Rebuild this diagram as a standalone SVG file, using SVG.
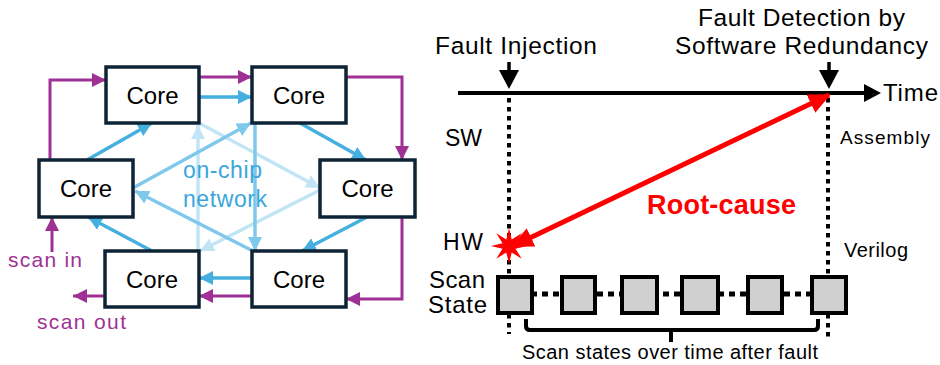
<svg xmlns="http://www.w3.org/2000/svg" width="940" height="365" viewBox="0 0 940 365">
<defs>
<style>
.core rect{fill:#fff;stroke:#0e2335;stroke-width:3.5}
.core text{font-family:"Liberation Sans",Arial,sans-serif;font-size:24px;fill:#000;text-anchor:middle}
.p{fill:none;stroke:#9e3193;stroke-width:3;marker-end:url(#mp)}
.b{fill:none;stroke:#45afe0;stroke-width:3.5;marker-end:url(#mb)}
.m{fill:none;stroke:#80c8eb;stroke-width:3.5;marker-end:url(#mm)}
.l{fill:none;stroke:#c2e5f6;stroke-width:3.5;marker-end:url(#ml)}
.t{font-family:"Liberation Sans",Arial,sans-serif;fill:#000}
.dot{fill:none;stroke:#000;stroke-width:4;stroke-dasharray:4.5 4.5}
.sb{fill:#d0d0d0;stroke:#000;stroke-width:4}
</style>
<marker id="mp" markerUnits="userSpaceOnUse" markerWidth="14" markerHeight="14" viewBox="0 0 14 14" refX="14" refY="7" orient="auto"><path d="M0,0 L14,7 L0,14 z" fill="#9e3193"/></marker>
<marker id="mb" markerUnits="userSpaceOnUse" markerWidth="14" markerHeight="14" viewBox="0 0 14 14" refX="14" refY="7" orient="auto"><path d="M0,0 L14,7 L0,14 z" fill="#45afe0"/></marker>
<marker id="mm" markerUnits="userSpaceOnUse" markerWidth="14" markerHeight="14" viewBox="0 0 14 14" refX="14" refY="7" orient="auto"><path d="M0,0 L14,7 L0,14 z" fill="#80c8eb"/></marker>
<marker id="ml" markerUnits="userSpaceOnUse" markerWidth="14" markerHeight="14" viewBox="0 0 14 14" refX="14" refY="7" orient="auto"><path d="M0,0 L14,7 L0,14 z" fill="#c2e5f6"/></marker>
<marker id="mr" markerUnits="userSpaceOnUse" markerWidth="22" markerHeight="20" viewBox="0 0 22 20" refX="20" refY="10" orient="auto-start-reverse"><path d="M0,0 L22,10 L0,20 z" fill="#ff0000"/></marker>
</defs>

<g id="connectors">
<path class="l" d="M198,251 V125"/>
<path class="l" d="M199,123 L320,188"/>
<path class="l" d="M320,190 L200,251"/>
<path class="m" d="M255,123 V251"/>
<path class="m" d="M133,188 L251,123"/>
<path class="m" d="M253,251 L135,191"/>
<path class="b" d="M199,97 H252"/>
<path class="b" d="M300,123 L366,160"/>
<path class="b" d="M367,217 L302,251"/>
<path class="b" d="M252,278 H199"/>
<path class="b" d="M152,251 L88,217"/>
<path class="b" d="M87,160 L152,123"/>
<path class="p" d="M50,159 V80 H106"/>
<path class="p" d="M199,77 H252"/>
<path class="p" d="M346,77 H402 V160"/>
<path class="p" d="M402,217 V299 H346"/>
<path class="p" d="M252,296 H199"/>
<path class="p" d="M105,296 H73"/>
<path class="p" d="M52,252 V217"/>
</g>

<g id="core1" class="core"><rect x="106" y="67" width="93" height="56"/><text x="152.5" y="104">Core</text></g>
<g id="core2" class="core"><rect x="252" y="67" width="94" height="56"/><text x="299" y="104">Core</text></g>
<g id="core3" class="core"><rect x="39" y="160" width="94" height="57"/><text x="86" y="197">Core</text></g>
<g id="core4" class="core"><rect x="320" y="160" width="95" height="57"/><text x="367.5" y="197">Core</text></g>
<g id="core5" class="core"><rect x="105" y="251" width="94" height="56"/><text x="152" y="288">Core</text></g>
<g id="core6" class="core"><rect x="252" y="251" width="94" height="56"/><text x="299" y="288">Core</text></g>

<g id="labels-left" font-family="Liberation Sans, Arial, sans-serif">
<text x="183" y="178" font-size="23" fill="#3aa6dc" textLength="79">on-chip</text>
<text x="183" y="207" font-size="23" fill="#3aa6dc" textLength="84">network</text>
<text x="8" y="267" font-size="21" fill="#9e3193" textLength="74">scan in</text>
<text x="37" y="329" font-size="21" fill="#9e3193" textLength="89">scan out</text>
</g>

<g id="timeline">
<line x1="458" y1="93" x2="866" y2="93" stroke="#000" stroke-width="4"/>
<polygon points="864,84 881,93 864,102" fill="#000"/>
<line x1="509" y1="62" x2="509" y2="72" stroke="#000" stroke-width="3.5"/>
<polygon points="499,70 519,70 509,89" fill="#000"/>
<line x1="829" y1="62" x2="829" y2="72" stroke="#000" stroke-width="3.5"/>
<polygon points="819,70 839,70 829,89" fill="#000"/>
<line class="dot" x1="509" y1="98" x2="509" y2="334"/>
<line class="dot" x1="828" y1="98" x2="828" y2="338"/>
</g>

<g id="labels-right" class="t">
<text x="435" y="54" font-size="24.5" class="t" textLength="162">Fault Injection</text>
<text x="698" y="26" font-size="24.5" class="t" textLength="207">Fault Detection by</text>
<text x="675" y="54" font-size="24.5" class="t" textLength="253">Software Redundancy</text>
<text x="883" y="101" font-size="24" class="t" textLength="55">Time</text>
<text x="445" y="146" font-size="23" class="t" textLength="37">SW</text>
<text x="443" y="250" font-size="23" class="t" textLength="40">HW</text>
<text x="840" y="144" font-size="19" class="t" textLength="90">Assembly</text>
<text x="844" y="257" font-size="20" class="t" textLength="64">Verilog</text>
<text x="429" y="288" font-size="24" class="t" textLength="56">Scan</text>
<text x="428" y="313" font-size="24" class="t" textLength="59">State</text>
</g>

<g id="scan-chain">
<line x1="531" y1="294" x2="812" y2="294" stroke="#000" stroke-width="5" stroke-dasharray="6 5"/>
<rect class="sb" x="498" y="277" width="34" height="36"/>
<rect class="sb" x="562" y="277" width="33" height="36"/>
<rect class="sb" x="622" y="277" width="35" height="36"/>
<rect class="sb" x="682" y="277" width="36" height="36"/>
<rect class="sb" x="748" y="277" width="34" height="36"/>
<rect class="sb" x="812" y="277" width="34" height="36"/>
</g>

<g id="bracket">
<path d="M526,319 V326 Q526,330 530,330 H814 Q818,330 818,326 V319 M671,330 V342" fill="none" stroke="#000" stroke-width="4"/>
<text x="522" y="359" font-size="20" class="t" textLength="296">Scan states over time after fault</text>
</g>

<g id="root-cause">
<line x1="513" y1="246" x2="829" y2="95" stroke="#ff0000" stroke-width="5" marker-start="url(#mr)" marker-end="url(#mr)"/>
<polygon points="509,228 511.7,239.5 521.7,233.3 515.5,243.3 527,246 515.5,248.7 521.7,258.7 511.7,252.5 509,264 506.3,252.5 496.3,258.7 502.5,248.7 491,246 502.5,243.3 496.3,233.3 506.3,239.5" fill="#ff0000"/>
<text x="647" y="214" font-family="Liberation Sans, Arial, sans-serif" font-size="27" font-weight="bold" fill="#ff0000" textLength="149">Root-cause</text>
</g>
</svg>
